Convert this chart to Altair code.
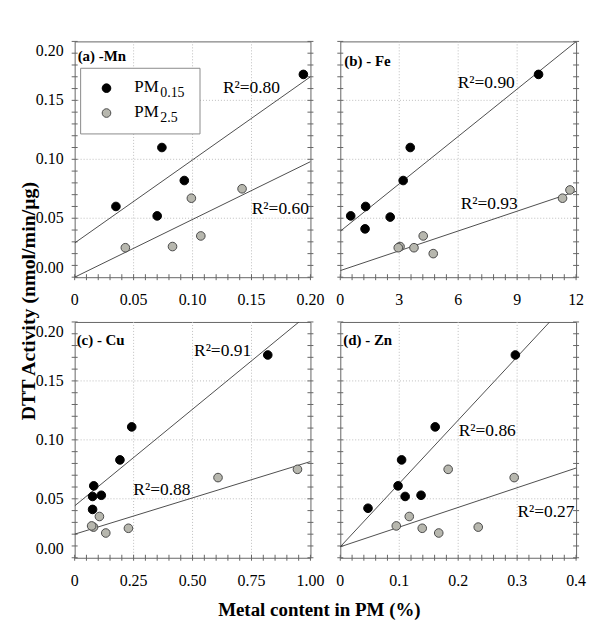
import altair as alt
import pandas as pd

FONT = "Liberation Serif"
SERIES = ["PM0.15", "PM2.5"]

# ---------------- data ----------------
# (a) Mn
mn_x_015 = [0.194, 0.074, 0.093, 0.035, 0.070]
mn_y_015 = [0.172, 0.110, 0.082, 0.060, 0.052]
mn_x_25 = [0.142, 0.099, 0.043, 0.083, 0.107]
mn_y_25 = [0.075, 0.067, 0.025, 0.026, 0.035]
mn_fit = [(0.029, 0.705), (0.000, 0.490)]   # (intercept, slope)
mn_r2 = ["0.80", "0.60"]

# (b) Fe
fe_x_015 = [10.09, 3.56, 3.20, 1.29, 0.53, 1.26, 2.54]
fe_y_015 = [0.172, 0.110, 0.082, 0.060, 0.052, 0.041, 0.051]
fe_x_25 = [11.69, 11.31, 4.22, 3.75, 3.04, 2.95, 4.73]
fe_y_25 = [0.074, 0.067, 0.035, 0.025, 0.026, 0.025, 0.020]
fe_fit = [(0.039, 0.0134), (0.0056, 0.0056)]
fe_r2 = ["0.90", "0.93"]

# (c) Cu
cu_x_015 = [0.819, 0.242, 0.192, 0.081, 0.076, 0.113, 0.076]
cu_y_015 = [0.172, 0.111, 0.083, 0.061, 0.052, 0.053, 0.041]
cu_x_25 = [0.945, 0.608, 0.105, 0.080, 0.072, 0.132, 0.228]
cu_y_25 = [0.075, 0.068, 0.035, 0.026, 0.027, 0.021, 0.025]
cu_fit = [(0.044, 0.164), (0.020, 0.0616)]
cu_r2 = ["0.91", "0.88"]

# (d) Zn
zn_x_015 = [0.297, 0.161, 0.104, 0.098, 0.110, 0.137, 0.047]
zn_y_015 = [0.172, 0.111, 0.083, 0.061, 0.052, 0.053, 0.042]
zn_x_25 = [0.295, 0.183, 0.117, 0.095, 0.139, 0.234, 0.167]
zn_y_25 = [0.068, 0.075, 0.035, 0.027, 0.025, 0.026, 0.021]
zn_fit = [(0.0093, 0.537), (0.0093, 0.167)]
zn_r2 = ["0.86", "0.27"]

# axis ticks and tick labels
y_ticks = [0, 0.05, 0.10, 0.15, 0.20]
y_labels = ["0.00", "0.05", "0.10", "0.15", "0.20"]
mn_ticks = [0, 0.05, 0.10, 0.15, 0.20]
mn_labels = ["0", "0.05", "0.10", "0.15", "0.20"]
fe_ticks = [0, 3, 6, 9, 12]
fe_labels = ["0", "3", "6", "9", "12"]
cu_ticks = [0, 0.25, 0.50, 0.75, 1.00]
cu_labels = ["0", "0.25", "0.50", "0.75", "1.00"]
zn_ticks = [0, 0.1, 0.2, 0.3, 0.4]
zn_labels = ["0", "0.1", "0.2", "0.3", "0.4"]

Y_TITLE = "DTT Activity (nmol/min/\u03bcg)"
X_TITLE = "Metal content in PM (%)"

W, H = 237, 237
TICK_COLOR = "#666666"
GRID_COLOR = "#bdbdbd"


def minor(ticks, n=20):
    lo, hi = ticks[0], ticks[-1]
    return [lo + (hi - lo) * i / n for i in range(n + 1)]


def one_text(txt, x, y, size=17, weight="normal", align="left",
             baseline="alphabetic", angle=0):
    return alt.Chart(pd.DataFrame({"t": [txt]})).mark_text(
        font=FONT, fontSize=size, fontWeight=weight, align=align,
        baseline=baseline, color="black", angle=angle
    ).encode(text="t:N", x=alt.value(x), y=alt.value(y))


def panel(x015, y015, x25, y25, fits, r2, ticks, tlabels, title, title_pos,
          r2_pos, ylabels, legend=False, ytitle=False, xtitle=False):
    xdom = [ticks[0], ticks[-1]]
    pts = pd.DataFrame({
        "x": list(x015) + list(x25),
        "y": list(y015) + list(y25),
        "s": [SERIES[0]] * len(x015) + [SERIES[1]] * len(x25),
    })
    rows = []
    for s, (b, m) in zip(SERIES, fits):
        for xv in xdom:
            rows.append({"x": xv, "y": b + m * xv, "s": s})
    fit_df = pd.DataFrame(rows)

    xs = alt.Scale(domain=xdom, nice=False, zero=False)
    ys = alt.Scale(domain=[0, 0.2], nice=False, zero=False)

    xgrid = pd.DataFrame({"v": ticks[1:-1]})
    ygrid = pd.DataFrame({"v": y_ticks[1:-1]})
    xmin = pd.DataFrame({"v": minor(ticks)})
    ymin = pd.DataFrame({"v": minor(y_ticks)})

    grid_v = alt.Chart(xgrid).mark_rule(color=GRID_COLOR, strokeDash=[1, 2], strokeWidth=1).encode(
        x=alt.X("v:Q", scale=xs, axis=None), y=alt.value(0), y2=alt.value(H))
    grid_h = alt.Chart(ygrid).mark_rule(color=GRID_COLOR, strokeDash=[1, 2], strokeWidth=1).encode(
        y=alt.Y("v:Q", scale=ys, axis=None), x=alt.value(0), x2=alt.value(W))

    tick_b = alt.Chart(xmin).mark_rule(color=TICK_COLOR, strokeWidth=1).encode(
        x=alt.X("v:Q", scale=xs, axis=None), y=alt.value(H - 3), y2=alt.value(H + 3))
    tick_l = alt.Chart(ymin).mark_rule(color=TICK_COLOR, strokeWidth=1).encode(
        y=alt.Y("v:Q", scale=ys, axis=None), x=alt.value(-3), x2=alt.value(3))
    tick_r = alt.Chart(ymin).mark_rule(color=TICK_COLOR, strokeWidth=1).encode(
        y=alt.Y("v:Q", scale=ys, axis=None), x=alt.value(W - 3), x2=alt.value(W + 3))

    # tick labels, placed through the scales
    xlab = alt.Chart(pd.DataFrame({"v": ticks, "t": tlabels})).mark_text(
        font=FONT, fontSize=16, color="black", align="center", baseline="middle"
    ).encode(x=alt.X("v:Q", scale=xs, axis=None), y=alt.value(H + 23), text="t:N")

    lines = alt.Chart(fit_df).mark_line(clip=True, color="#3a3a3a", strokeWidth=0.9).encode(
        x=alt.X("x:Q", scale=xs, axis=None),
        y=alt.Y("y:Q", scale=ys, axis=None),
        detail="s:N",
    )
    points = alt.Chart(pts).mark_point(
        filled=True, shape="circle", size=75, opacity=1, strokeWidth=1
    ).encode(
        x=alt.X("x:Q", scale=xs, axis=None),
        y=alt.Y("y:Q", scale=ys, axis=None),
        fill=alt.Fill("s:N", scale=alt.Scale(domain=SERIES, range=["#000000", "#b7b7ae"]), legend=None),
        stroke=alt.Stroke("s:N", scale=alt.Scale(domain=SERIES, range=["#000000", "#4a4a4a"]), legend=None),
    )

    layers = [grid_v, grid_h, tick_b, tick_l, tick_r, lines, points, xlab]

    if ylabels:
        ymid = pd.DataFrame({"v": y_ticks[1:-1], "t": y_labels[1:-1]})
        ylo = pd.DataFrame({"v": y_ticks[:1], "t": y_labels[:1]})
        yhi = pd.DataFrame({"v": y_ticks[-1:], "t": y_labels[-1:]})
        for df, base, dy in [(ymid, "middle", 0), (ylo, "bottom", -1), (yhi, "top", 2)]:
            layers.append(alt.Chart(df).mark_text(
                font=FONT, fontSize=16, color="black", align="right",
                baseline=base, dy=dy
            ).encode(y=alt.Y("v:Q", scale=ys, axis=None), x=alt.value(-11), text="t:N"))

    layers.append(one_text(title, title_pos[0], title_pos[1], size=15,
                           weight="bold", baseline="middle"))
    for lab, (px, py) in zip(r2, r2_pos):
        layers.append(one_text("R\u00b2=" + lab, px, py, size=17.5))

    if ytitle:
        layers.append(one_text(Y_TITLE, -46, 261, size=20, weight="bold",
                               align="center", baseline="middle", angle=270))
    if xtitle:
        layers.append(one_text(X_TITLE, 246, H + 53, size=19, weight="bold",
                               align="center", baseline="middle"))

    if legend:
        box = alt.Chart(pd.DataFrame({"k": [0]})).mark_rect(
            fill="white", stroke="#8a8a8a", strokeWidth=1
        ).encode(x=alt.value(6), x2=alt.value(126), y=alt.value(27), y2=alt.value(93))
        layers.append(box)
        for i, (cy, fillc, strokec, sub) in enumerate([
            (47, "#000000", "#000000", "0.15"),
            (72, "#b7b7ae", "#4a4a4a", "2.5"),
        ]):
            layers.append(
                alt.Chart(pd.DataFrame({"k": [SERIES[i]]})).mark_point(
                    filled=True, shape="circle", size=75, opacity=1,
                    fill=fillc, stroke=strokec, strokeWidth=1
                ).encode(x=alt.value(32), y=alt.value(cy))
            )
            layers.append(one_text("PM", 60, cy + 4, size=17))
            layers.append(one_text(sub, 86, cy + 9, size=14))

    return alt.layer(*layers).properties(width=W, height=H)


pa = panel(mn_x_015, mn_y_015, mn_x_25, mn_y_25, mn_fit, mn_r2, mn_ticks, mn_labels,
           "(a) -Mn", (3, 15), [(149, 52), (178, 173)], True, legend=True, ytitle=True)
pb = panel(fe_x_015, fe_y_015, fe_x_25, fe_y_25, fe_fit, fe_r2, fe_ticks, fe_labels,
           "(b) - Fe", (4, 20), [(118, 47), (121, 168)], False)
pc = panel(cu_x_015, cu_y_015, cu_x_25, cu_y_25, cu_fit, cu_r2, cu_ticks, cu_labels,
           "(c) - Cu", (2, 18), [(120, 34), (59, 174)], True, xtitle=True)
pd_ = panel(zn_x_015, zn_y_015, zn_x_25, zn_y_25, zn_fit, zn_r2, zn_ticks, zn_labels,
            "(d) - Zn", (3, 18), [(119, 115), (178, 196)], False)

chart = alt.concat(
    pa, pb, pc, pd_, columns=2,
    spacing={"row": 45, "column": 30}, bounds="flush"
).properties(
    padding={"left": 10, "top": 31, "right": 5, "bottom": 0},
    background="white",
).configure_view(
    stroke=TICK_COLOR, strokeWidth=1
)

chart.save("out.html", embed_options={"renderer": "svg", "actions": False})
